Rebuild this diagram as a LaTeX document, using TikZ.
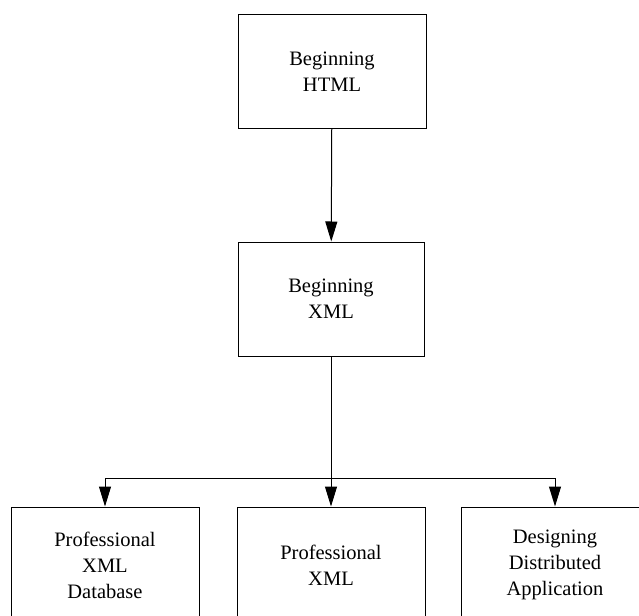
\documentclass[tikz,border=0pt]{standalone}
\usepackage{fontspec}
\setmainfont{Liberation Serif}
\usetikzlibrary{arrows.meta,positioning}
\tikzstyle{course}=[rectangle,draw=black,line width=1pt,fill=white,align=center,
  font=\fontsize{20.5}{26}\selectfont]
\tikzstyle{post}=[-{Triangle[length=20pt,width=12pt]},line width=1pt]

\begin{document}
\begin{tikzpicture}[x=1pt,y=1pt]
    \useasboundingbox (0,0) rectangle (639,-615);
    \clip (0,0) rectangle (639,-615);
    % top two books
    \node [course,minimum width=188pt,minimum height=113pt] (b1) at (332,-71.5) {Beginning\\HTML};
    \node [course,minimum width=186pt,minimum height=114pt] (b2) at (331,-299) {Beginning\\XML};
    % bottom row
    \node [course,minimum width=188pt,minimum height=116pt] (p1) at (105,-565) {Professional\\XML\\Database};
    \node [course,minimum width=188pt,minimum height=116pt] (p2) at (331,-565) {Professional\\XML};
    \node [course,minimum width=188pt,minimum height=116pt] (p3) at (555,-565) {Designing\\Distributed\\Application};
    \coordinate (split) at (331,-478);

    \draw [post] (b1) -- (b2);
    \draw [post] (b2) -- (p2);
    \draw [post] (split) -| (p1);
    \draw [post] (split) -| (p3);
\end{tikzpicture}
\end{document}
